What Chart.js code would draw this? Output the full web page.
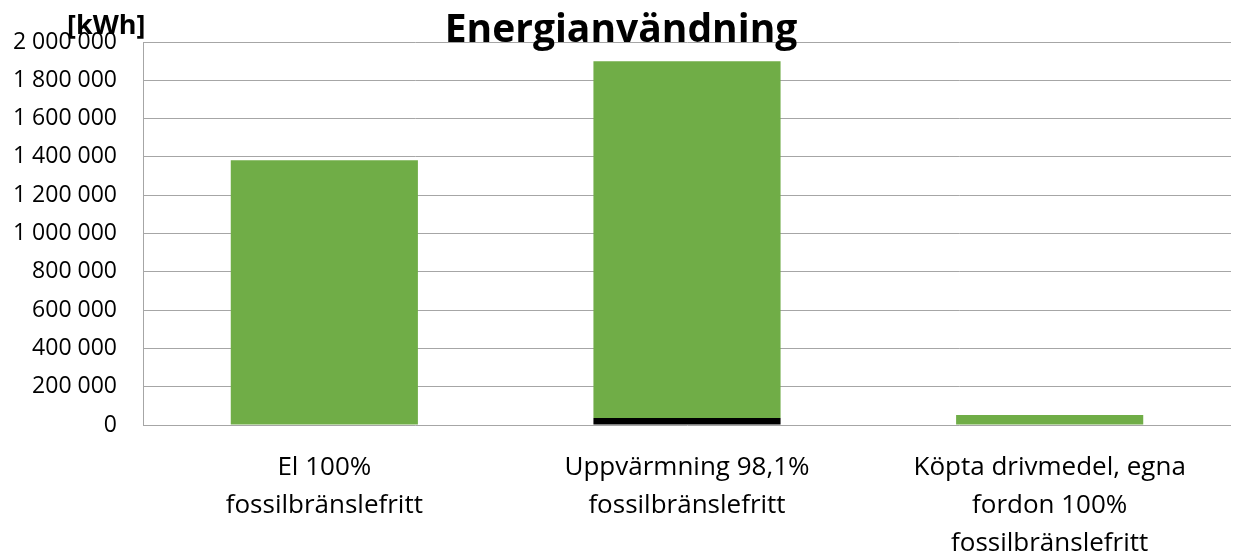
<!DOCTYPE html>
<html>
<head>
<meta charset="utf-8">
<script src="https://cdn.jsdelivr.net/npm/chart.js@4/dist/chart.umd.min.js"></script>
<style>
  html, body { margin: 0; padding: 0; background: #fff; }
  #wrap { width: 1233px; height: 558px; }
</style>
</head>
<body>
<div id="wrap"><canvas id="chart" width="1233" height="558"></canvas></div>
<script>
  // Data
  const categories = [
    ["El 100%", "fossilbränslefritt"],
    ["Uppvärmning 98,1%", "fossilbränslefritt"],
    ["Köpta drivmedel, egna", "fordon 100%", "fossilbränslefritt"]
  ];
  const fossil = [0, 36000, 0];
  const fossilFree = [1382000, 1864000, 52000];
  const yMin = 0, yMax = 2000000, yStep = 200000;

  const fmt = v => String(v).replace(/\B(?=(\d{3})+(?!\d))/g, " ");

  // Title and unit drawn on top, overlapping the plot like the original
  const overlay = {
    id: "overlay",
    afterDraw(chart) {
      const c = chart.ctx;
      c.save();
      c.fillStyle = "#000";
      c.textBaseline = "middle";
      c.textAlign = "center";
      c.font = "bold 39px 'Open Sans'";
      c.fillText("Energianvändning", 621, 31);
      c.textAlign = "left";
      c.font = "bold 27px 'Open Sans'";
      c.fillText("[kWh]", 67, 26);
      c.restore();
    }
  };

  new Chart(document.getElementById("chart").getContext("2d"), {
    type: "bar",
    data: {
      labels: categories,
      datasets: [
        { label: "Fossilt", data: fossil, backgroundColor: "#000000", borderWidth: 0 },
        { label: "Fossilfritt", data: fossilFree, backgroundColor: "#70ad47", borderWidth: 0 }
      ]
    },
    options: {
      responsive: false,
      animation: false,
      layout: { padding: { top: 42, right: 2, left: 0, bottom: 0 } },
      plugins: { legend: { display: false }, title: { display: false }, tooltip: { enabled: false } },
      datasets: { bar: { categoryPercentage: 1, barPercentage: 0.516 } },
      scales: {
        x: {
          stacked: true,
          grid: { display: false },
          border: { display: false },
          ticks: { color: "#000", font: { family: "'Open Sans'", size: 26, lineHeight: 1.46 }, padding: 16, maxRotation: 0 },
          afterFit(scale) { scale.height = 133; }
        },
        y: {
          stacked: true,
          min: yMin,
          max: yMax,
          grid: { color: "#a6a6a6", lineWidth: 1, drawTicks: false },
          border: { display: true, color: "#a6a6a6" },
          ticks: {
            stepSize: yStep,
            color: "#000",
            padding: 26,
            font: { family: "'Open Sans'", size: 23 },
            callback: v => fmt(v)
          },
          afterFit(scale) { scale.width = 143; }
        }
      }
    },
    plugins: [overlay]
  });
</script>
</body>
</html>
